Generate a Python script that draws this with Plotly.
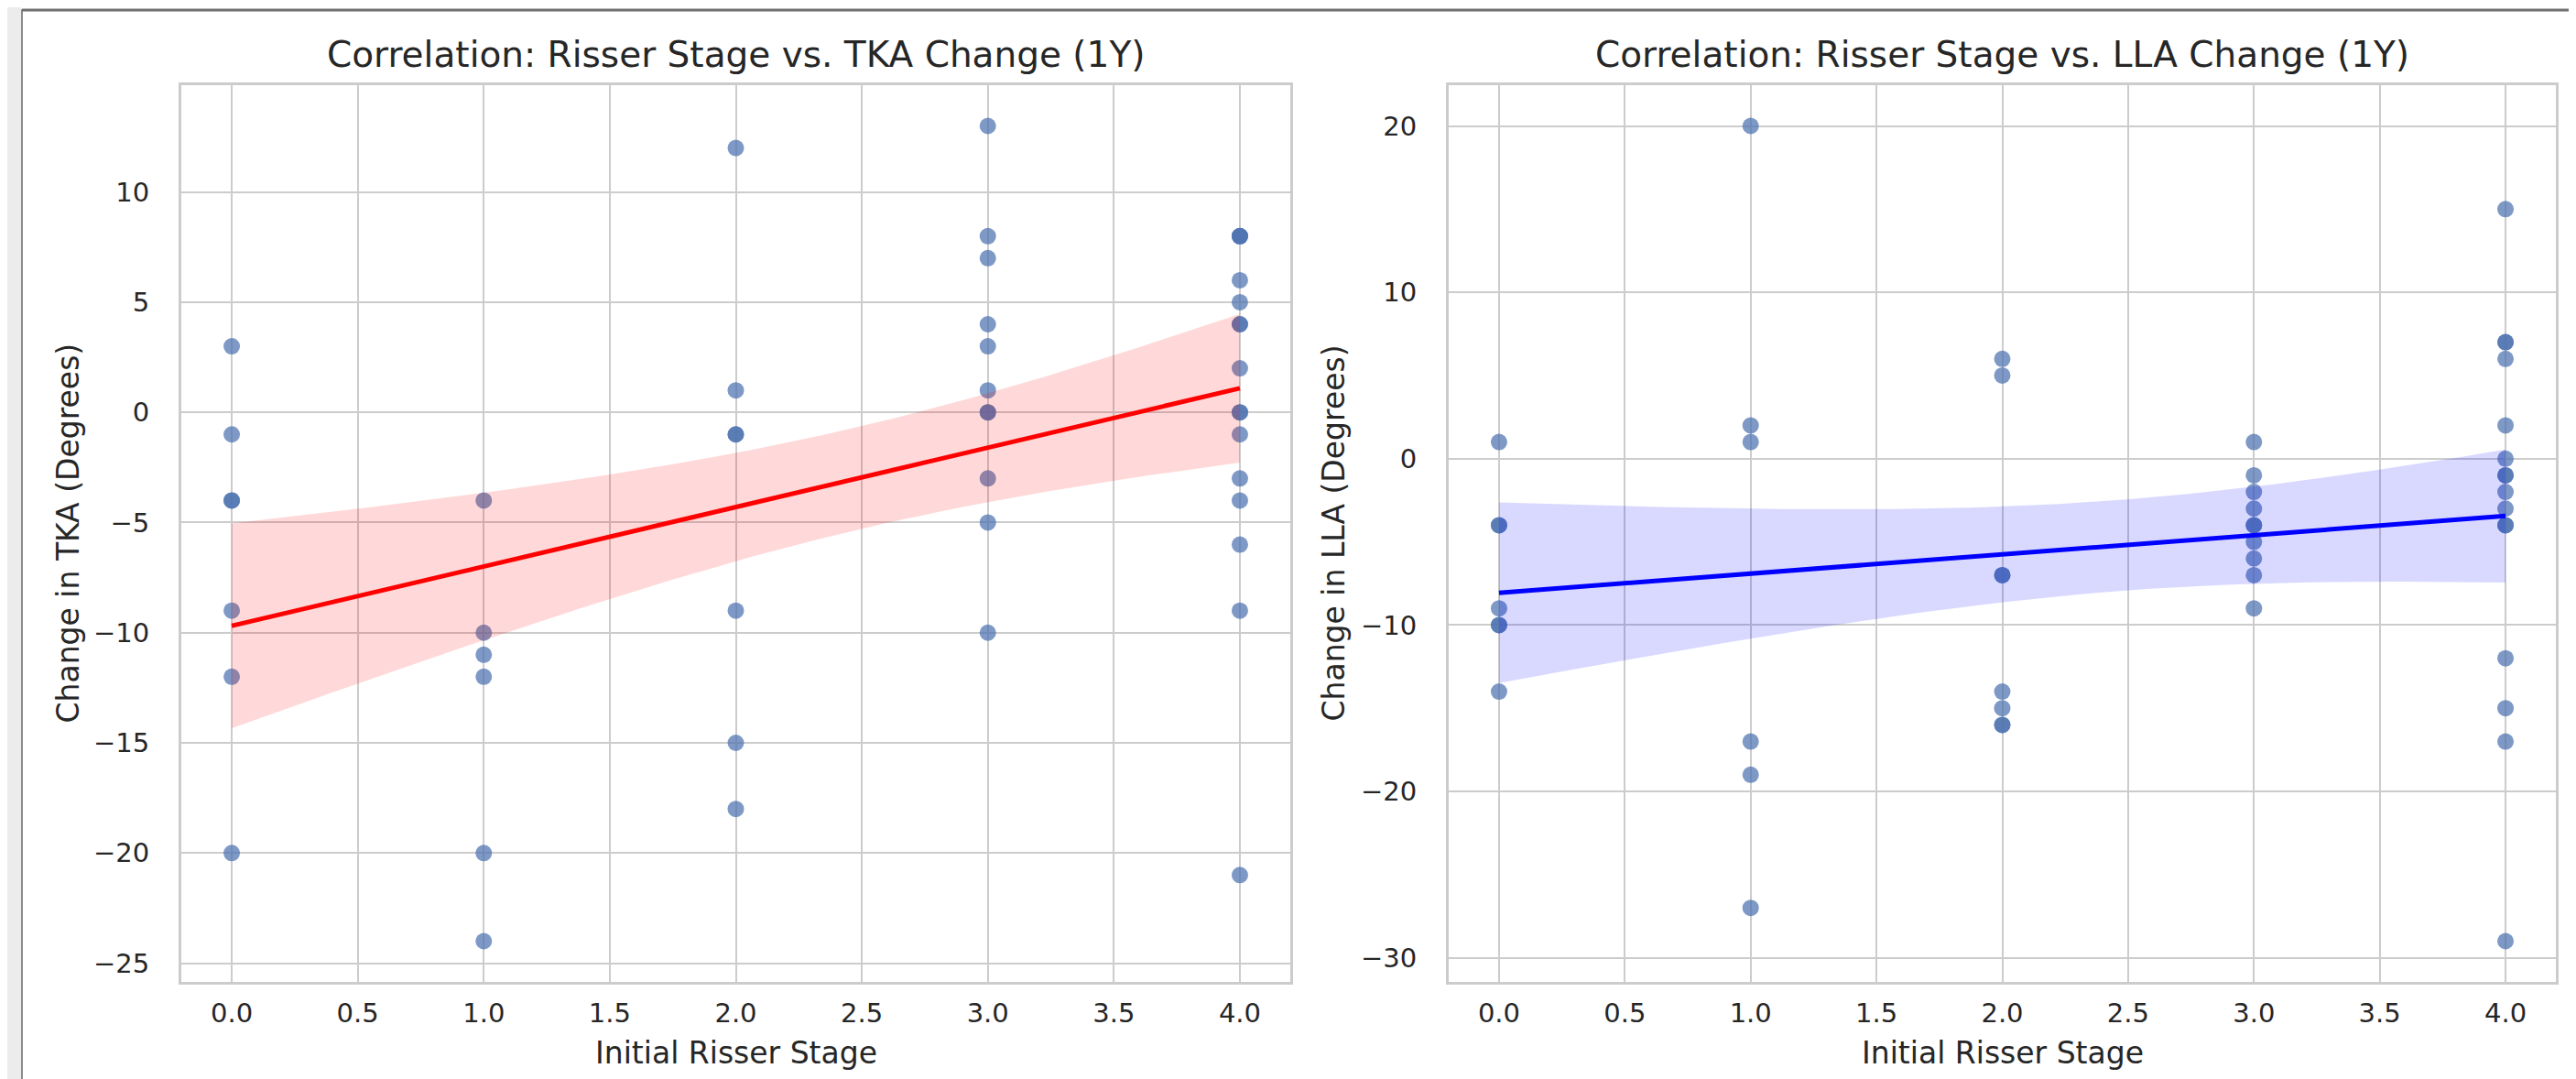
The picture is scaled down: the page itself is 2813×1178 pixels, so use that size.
import numpy as np
import plotly.graph_objects as go

W, H = 2813, 1178

# ---------------- data ----------------
tka_stage = [0, 0, 0, 0, 0, 0, 0,
             1, 1, 1, 1, 1, 1,
             2, 2, 2, 2, 2, 2, 2,
             3, 3, 3, 3, 3, 3, 3, 3, 3, 3, 3,
             4, 4, 4, 4, 4, 4, 4, 4, 4, 4, 4, 4, 4, 4, 4, 4]
tka_change = [3, -1, -4, -4, -9, -12, -20,
              -4, -10, -11, -12, -20, -24,
              12, 1, -1, -1, -9, -15, -18,
              13, 8, 7, 4, 3, 1, 0, 0, -3, -5, -10,
              8, 8, 8, 6, 5, 4, 4, 2, 0, 0, -1, -3, -4, -6, -9, -21]

lla_stage = [0, 0, 0, 0, 0, 0, 0,
             1, 1, 1, 1, 1, 1,
             2, 2, 2, 2, 2, 2, 2, 2,
             3, 3, 3, 3, 3, 3, 3, 3, 3, 3,
             4, 4, 4, 4, 4, 4, 4, 4, 4, 4, 4, 4, 4, 4, 4, 4]
lla_change = [1, -4, -4, -9, -10, -10, -14,
              20, 2, 1, -17, -19, -27,
              6, 5, -7, -7, -14, -15, -16, -16,
              1, -1, -2, -3, -4, -4, -5, -6, -7, -9,
              15, 7, 7, 6, 2, 0, -1, -1, -2, -3, -4, -4, -12, -15, -17, -29]

x_ticks = [0.0, 0.5, 1.0, 1.5, 2.0, 2.5, 3.0, 3.5, 4.0]
titles = ["Correlation: Risser Stage vs. TKA Change (1Y)",
          "Correlation: Risser Stage vs. LLA Change (1Y)"]
y_titles = ["Change in TKA (Degrees)", "Change in LLA (Degrees)"]
x_title = "Initial Risser Stage"

# ---------------- styling ----------------
FONT = "DejaVu Sans"
TXT = "#262626"
GRID = "#cccccc"
PT_COLOR = "rgba(76,114,176,0.72)"

# plot area pixel boxes
L1, R1 = 190, 1401
L2, R2 = 1574, 2783
TOP, BOT = 85, 1064


def px_x(p):
    return p / W


def px_y(p):
    return 1 - p / H


def fit(x, y):
    x = np.asarray(x, float)
    y = np.asarray(y, float)
    n = len(x)
    b, a = np.polyfit(x, y, 1)
    grid = np.linspace(x.min(), x.max(), 100)
    yhat = a + b * grid
    resid = y - (a + b * x)
    s = np.sqrt(np.sum(resid ** 2) / (n - 2))
    sxx = np.sum((x - x.mean()) ** 2)
    se = s * np.sqrt(1.0 / n + (grid - x.mean()) ** 2 / sxx)
    return grid, yhat, yhat - 1.96 * se, yhat + 1.96 * se


def pad_range(v):
    lo, hi = min(v), max(v)
    m = 0.05 * (hi - lo)
    return [lo - m, hi + m]


fig = go.Figure()

panels = [
    (tka_stage, tka_change, "red", "rgba(255,0,0,0.15)", "x", "y"),
    (lla_stage, lla_change, "blue", "rgba(0,0,255,0.15)", "x2", "y2"),
]

for xs, ys, lc, bc, xa, ya in panels:
    fig.add_trace(go.Scatter(x=xs, y=ys, mode="markers", xaxis=xa, yaxis=ya,
                             marker=dict(size=18, color=PT_COLOR, line=dict(width=0)),
                             showlegend=False, hoverinfo="x+y"))
    g, yh, lo, hi = fit(xs, ys)
    fig.add_trace(go.Scatter(x=np.concatenate([g, g[::-1]]),
                             y=np.concatenate([hi, lo[::-1]]),
                             mode="lines", fill="toself", fillcolor=bc,
                             line=dict(width=0), xaxis=xa, yaxis=ya,
                             showlegend=False, hoverinfo="skip"))
    fig.add_trace(go.Scatter(x=g, y=yh, mode="lines", xaxis=xa, yaxis=ya,
                             line=dict(color=lc, width=5),
                             showlegend=False, hoverinfo="skip"))

axis_common = dict(showgrid=True, gridcolor=GRID, gridwidth=2,
                   showline=True, linecolor=GRID, linewidth=3, mirror=True,
                   zeroline=False, ticks="",
                   tickfont=dict(family=FONT, size=29, color=TXT))

xr = pad_range(tka_stage)
fig.update_layout(
    width=W, height=H,
    margin=dict(l=0, r=0, t=0, b=0),
    paper_bgcolor="white", plot_bgcolor="white",
    font=dict(family=FONT, color=TXT),
    showlegend=False,
    xaxis=dict(domain=[px_x(L1), px_x(R1)], range=xr, tickvals=x_ticks,
               tickformat=".1f", anchor="y", ticklabelstandoff=6, **axis_common),
    yaxis=dict(domain=[px_y(BOT), px_y(TOP)], range=pad_range(tka_change),
               dtick=5, anchor="x", ticklabelstandoff=26, **axis_common),
    xaxis2=dict(domain=[px_x(L2), px_x(R2)], range=pad_range(lla_stage),
                tickvals=x_ticks, tickformat=".1f", anchor="y2",
                ticklabelstandoff=6, **axis_common),
    yaxis2=dict(domain=[px_y(BOT), px_y(TOP)], range=pad_range(lla_change),
                dtick=10, anchor="x2", ticklabelstandoff=26, **axis_common),
)

ann = []
for (l, r), t, yt, ytx in [((L1, R1), titles[0], y_titles[0], 66),
                           ((L2, R2), titles[1], y_titles[1], 1448)]:
    cx = (l + r) / 2
    ann.append(dict(text=t, x=px_x(cx), y=px_y(51), xref="paper", yref="paper",
                    xanchor="center", yanchor="middle", showarrow=False,
                    font=dict(family=FONT, size=39, color=TXT)))
    ann.append(dict(text=x_title, x=px_x(cx), y=px_y(1141), xref="paper", yref="paper",
                    xanchor="center", yanchor="middle", showarrow=False,
                    font=dict(family=FONT, size=33, color=TXT)))
    ann.append(dict(text=yt, x=px_x(ytx), y=px_y((TOP + BOT) / 2), xref="paper",
                    yref="paper", xanchor="center", yanchor="middle", textangle=-90,
                    showarrow=False, font=dict(family=FONT, size=33, color=TXT)))
fig.update_layout(annotations=ann)

# notebook-style frame around the output
shapes = [
    dict(type="rect", xref="paper", yref="paper", x0=0, x1=px_x(15), y0=0, y1=1,
         fillcolor="#ececec", line=dict(width=0), layer="above"),
    dict(type="line", xref="paper", yref="paper", x0=px_x(16), x1=px_x(16), y0=0, y1=px_y(2),
         line=dict(color="#8c8c8c", width=2), layer="above"),
    dict(type="line", xref="paper", yref="paper", x0=px_x(16), x1=px_x(2803), y0=px_y(3), y1=px_y(3),
         line=dict(color="#6f6f6f", width=3), layer="above"),
    dict(type="rect", xref="paper", yref="paper", x0=px_x(2804), x1=1, y0=0, y1=1,
         fillcolor="#ececec", line=dict(width=0), layer="above"),
    dict(type="line", xref="paper", yref="paper", x0=px_x(2803), x1=px_x(2803), y0=0, y1=px_y(2),
         line=dict(color="#8c8c8c", width=2), layer="above"),
]
fig.update_layout(shapes=shapes)

fig.write_html("out.html")
